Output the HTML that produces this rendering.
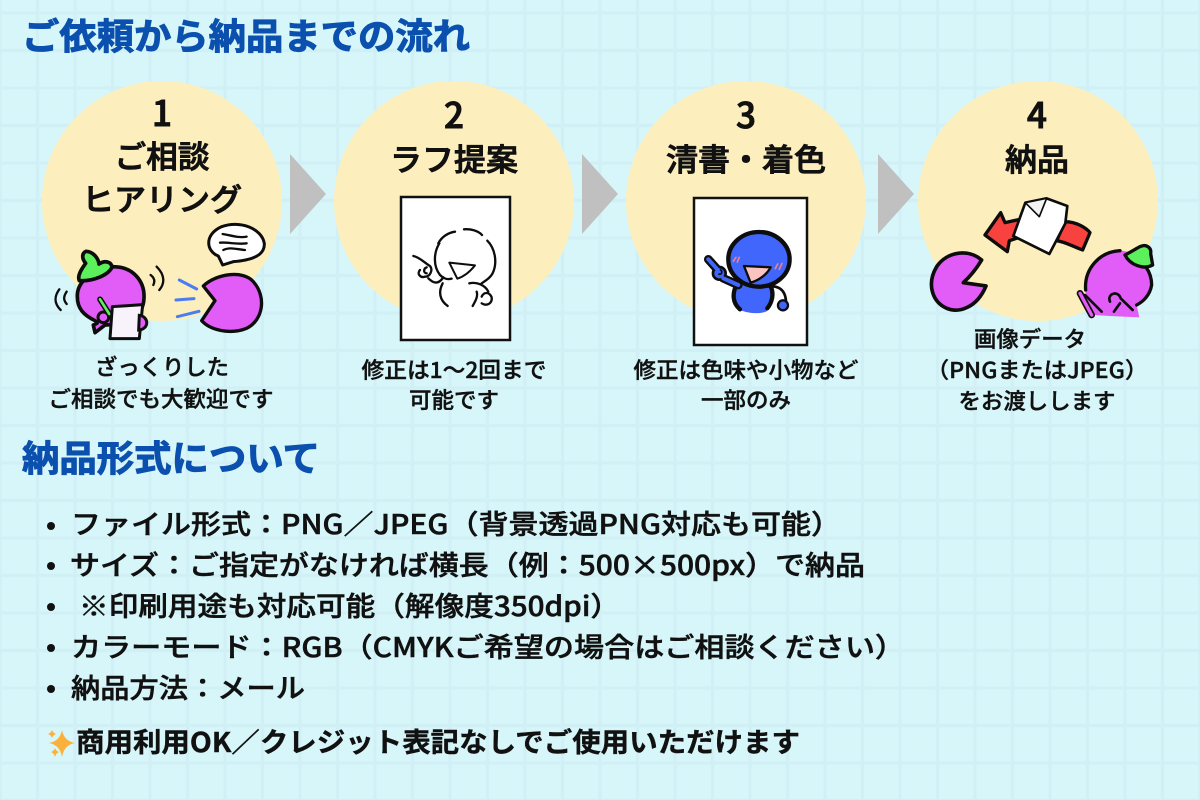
<!DOCTYPE html>
<html lang="ja"><head><meta charset="utf-8"><title>ご依頼から納品までの流れ</title>
<style>
html,body{margin:0;padding:0;background:#d7f6f9}
svg{display:block}
text{font-family:"Noto Sans CJK JP","Liberation Sans",sans-serif;fill:#111;font-weight:500}
.h{font-weight:700;fill:#0b50ae;font-size:36px;stroke:#0b50ae;stroke-width:1px}
.n{font-size:31px;text-anchor:middle;stroke:#111;stroke-width:.9px}
.d{font-size:35px;text-anchor:middle;stroke:#111;stroke-width:1px}
.c{font-size:22px;text-anchor:middle;stroke:#111;stroke-width:.4px}
.l{font-size:27px;stroke:#111;stroke-width:.5px}
.b{font-size:27px;font-weight:700;stroke:#111;stroke-width:.4px}
.k{fill:none;stroke:#111;stroke-linecap:round;stroke-linejoin:round}
</style></head><body>
<svg width="1200" height="800" viewBox="0 0 1200 800" xmlns="http://www.w3.org/2000/svg">
<defs>
<pattern id="g" x="18.75" y="-5.75" width="37.5" height="37.5" patternUnits="userSpaceOnUse">
<path d="M18.75 0V37.5M0 18.75H37.5" stroke="#d0f0f5" stroke-width="3" fill="none"/>
</pattern>
<filter id="r" x="-5%" y="-5%" width="110%" height="110%"><feTurbulence type="fractalNoise" baseFrequency=".5" numOctaves="2" seed="3"/><feDisplacementMap in="SourceGraphic" scale="1.5"/></filter>
</defs>
<rect width="1200" height="800" fill="#d7f6f9"/>
<rect width="1200" height="800" fill="url(#g)"/>
<text class="h" x="22" y="49" textLength="448" lengthAdjust="spacingAndGlyphs">ご依頼から納品までの流れ</text>
<g fill="#fcefbd"><circle cx="162" cy="201" r="120"/><circle cx="454" cy="201" r="120"/><circle cx="746" cy="201" r="120"/><circle cx="1038" cy="201" r="120"/></g>
<g fill="#c0c0c0"><path d="M290 154L326 194L290 234Z"/><path d="M582 154L618 194L582 234Z"/><path d="M878 154L914 194L878 234Z"/></g>
<text class="d" x="162" y="126">1</text>
<text class="n" x="162" y="168" textLength="95" lengthAdjust="spacingAndGlyphs">ご相談</text>
<text class="n" x="162" y="211" textLength="160" lengthAdjust="spacingAndGlyphs">ヒアリング</text>
<text class="d" x="454" y="128">2</text>
<text class="n" x="454" y="171" textLength="128" lengthAdjust="spacingAndGlyphs">ラフ提案</text>
<text class="d" x="746" y="128">3</text>
<text class="n" x="746" y="171" textLength="160" lengthAdjust="spacingAndGlyphs">清書・着色</text>
<text class="d" x="1037" y="128">4</text>
<text class="n" x="1037" y="171" textLength="64" lengthAdjust="spacingAndGlyphs">納品</text>

<!-- step 1 -->
<g transform="translate(30 210) scale(.3333)" filter="url(#r)">
<path d="M142 260C140 215 190 175 250 170C310 170 345 215 342 265C340 320 290 345 225 345L195 368L190 345C205 340 205 338 195 332C160 315 142 295 142 260Z" fill="#e25cf7" stroke="#111" stroke-width="11" stroke-linejoin="round"/>
<path d="M168 124C190 125 205 145 207 162C225 150 245 155 246 172C235 195 190 215 148 212C140 195 160 170 167 160C155 145 155 130 168 124Z" fill="#5cf05c" stroke="#111" stroke-width="11" stroke-linejoin="round"/>
<circle cx="220" cy="322" r="16" fill="#e25cf7" stroke="#111" stroke-width="9"/>
<path d="M210 268L238 312" stroke="#111" stroke-width="17" stroke-linecap="round"/><path d="M210 268L238 312" stroke="#5cf05c" stroke-width="8" stroke-linecap="round"/>
<path d="M247 290L338 284L328 386L240 386Z" fill="#f8f2fa" stroke="#111" stroke-width="9" stroke-linejoin="round"/>
<path d="M328 316C358 320 358 358 326 360Z" fill="#e25cf7" stroke="#111" stroke-width="9"/>
<path class="k" stroke-width="7" d="M362 195C375 205 375 215 370 225M380 170C405 195 405 220 388 240M110 245C100 260 100 270 110 282M88 238C72 260 72 280 92 300"/>
<path d="M520 228C560 190 640 180 670 215C710 260 700 330 650 355C600 375 540 360 515 332L555 272Z" fill="#e25cf7" stroke="#111" stroke-width="10" stroke-linejoin="round"/>
<path class="k" style="stroke:#4a7df0" stroke-width="9" d="M448 210L500 237M438 270L492 266M442 320L507 304"/>
<path d="M575 50C630 30 695 55 703 100C705 135 670 150 610 155L578 165L565 138C530 125 520 75 575 50Z" fill="#fff" stroke="#111" stroke-width="9" stroke-linejoin="round"/>
<path class="k" stroke-width="7" d="M578 72C600 75 625 85 650 80M570 98C595 96 620 104 650 100M580 120C600 110 620 118 645 120"/>
</g>

<!-- paper 2 and 3 -->
<rect x="401" y="197" width="109" height="143" fill="#fff" stroke="#111" stroke-width="2.5"/>
<rect x="694" y="198" width="113" height="147" fill="#fff" stroke="#111" stroke-width="2.5"/>
<g transform="translate(380 180) scale(.3333)" filter="url(#r)">
<path class="k" stroke-width="7" d="M175 190C185 170 205 158 225 155M252 148C270 146 295 152 306 165M322 182C345 205 352 245 340 275C335 290 320 300 305 310M178 190C160 220 160 260 180 285C190 295 200 300 215 296"/>
<path d="M208 248L285 256C270 275 250 290 232 296Z" fill="#fff" stroke="#111" stroke-width="6" stroke-linejoin="round"/>
<path class="k" stroke-width="7" d="M100 228C120 232 135 250 150 258C160 270 150 290 135 290C120 295 110 280 120 270M140 262C130 265 130 280 140 280M145 295C160 310 175 315 190 292M188 310C175 335 178 360 203 378M268 310C290 305 315 315 325 335M290 335C295 350 285 365 278 378M305 370C320 380 338 370 335 352C328 335 312 335 305 350"/>
</g>
<g transform="translate(380 180) scale(.3333)" filter="url(#r)">
<path d="M1070 300C1050 335 1055 372 1080 390C1110 402 1140 402 1160 394C1180 365 1182 335 1170 310Z" fill="#3f66fb"/>
<path class="k" stroke-width="13" d="M1072 310C1055 340 1058 370 1080 388M1172 318C1182 340 1178 365 1162 385"/>
<ellipse cx="1137" cy="238" rx="92" ry="82" fill="#3f66fb" stroke="#111" stroke-width="13"/>
<path d="M985 238L1012 268M1030 295L1075 315" stroke="#111" stroke-width="26" stroke-linecap="round"/>
<circle cx="1018" cy="280" r="23" fill="#111"/>
<path d="M985 238L1012 268M1030 295L1075 315" stroke="#3f66fb" stroke-width="12" stroke-linecap="round"/>
<circle cx="1018" cy="280" r="15" fill="#3f66fb"/>
<path d="M1020 268C1030 275 1025 285 1015 282" fill="none" stroke="#111" stroke-width="5"/>
<path class="k" stroke-width="8" d="M1160 320C1190 315 1215 325 1218 362"/>
<circle cx="1209" cy="376" r="15" fill="#3f66fb" stroke="#111" stroke-width="7"/>
<path d="M1092 258L1172 262C1160 285 1135 302 1112 308Z" fill="#fcc4c0" stroke="#111" stroke-width="7" stroke-linejoin="round"/>
<path d="M1068 232L1060 244M1078 232L1072 246M1193 252L1186 266M1206 250L1198 268" stroke="#f0808a" stroke-width="5" stroke-linecap="round"/>
</g>

<!-- step 4 -->
<g transform="translate(910 180) scale(.3333)" filter="url(#r)">
<path d="M330 118L285 128L272 98L225 165L292 215L298 182L335 170Z" fill="#f8433f" stroke="#111" stroke-width="10" stroke-linejoin="round"/>
<path d="M465 125C500 125 530 145 540 158L518 210C490 200 465 185 440 182Z" fill="#f8433f" stroke="#111" stroke-width="10" stroke-linejoin="round"/>
<path d="M346 68L410 55L472 78L466 130L418 222L310 168Z" fill="#fff" stroke="#111" stroke-width="8" stroke-linejoin="round"/>
<path d="M346 68L388 110L410 55Z" fill="#f4f4f4" stroke="#111" stroke-width="5" stroke-linejoin="round"/>
<path d="M215 240C175 205 110 215 80 260C50 310 65 365 110 385C145 400 200 385 228 318L160 308C180 290 200 265 215 240Z" fill="#e25cf7" stroke="#111" stroke-width="11" stroke-linejoin="round"/>
<path d="M525 320C525 260 570 212 630 212C690 215 725 265 725 315C720 345 700 365 680 375L688 412L600 408L550 405L530 365Z" fill="#e25cf7"/>
<path class="k" stroke-width="10" d="M527 330C522 265 570 215 630 212M660 225C700 240 725 275 725 315C720 345 700 365 680 375"/>
<path d="M645 225C665 215 680 205 690 200C710 190 725 205 722 220L728 255C700 270 660 255 645 225Z" fill="#5cf05c" stroke="#111" stroke-width="10" stroke-linejoin="round"/>
<path d="M510 340L545 405" stroke="#111" stroke-width="20" stroke-linecap="round"/>
<path d="M510 340L545 405" stroke="#e25cf7" stroke-width="10" stroke-linecap="round"/>
<path class="k" stroke-width="8" d="M525 345L575 395M600 365C590 340 625 330 632 355L668 390M630 370L612 395"/>
</g>

<g>
<text class="c" x="162" y="375" textLength="134" lengthAdjust="spacingAndGlyphs">ざっくりした</text>
<text class="c" x="161" y="407" textLength="225" lengthAdjust="spacingAndGlyphs">ご相談でも大歓迎です</text>
<text class="c" x="454" y="378" textLength="185" lengthAdjust="spacingAndGlyphs">修正は1～2回まで</text>
<text class="c" x="454" y="408" textLength="90" lengthAdjust="spacingAndGlyphs">可能です</text>
<text class="c" x="746" y="378" textLength="225" lengthAdjust="spacingAndGlyphs">修正は色味や小物など</text>
<text class="c" x="746" y="408" textLength="90" lengthAdjust="spacingAndGlyphs">一部のみ</text>
<text class="c" x="1030" y="347" textLength="112" lengthAdjust="spacingAndGlyphs">画像データ</text>
<text class="c" x="1037" y="378" textLength="222" lengthAdjust="spacingAndGlyphs">（PNGまたはJPEG）</text>
<text class="c" x="1037" y="409" textLength="157" lengthAdjust="spacingAndGlyphs">をお渡しします</text>
</g>

<text class="h" x="22" y="471" textLength="298" lengthAdjust="spacingAndGlyphs">納品形式について</text>

<g fill="#111"><circle cx="51" cy="526" r="4"/><circle cx="51" cy="566" r="4"/><circle cx="51" cy="607" r="4"/><circle cx="51" cy="648" r="4"/><circle cx="51" cy="689" r="4"/></g>
<text class="l" x="71" y="534" textLength="770" lengthAdjust="spacingAndGlyphs">ファイル形式：PNG／JPEG（背景透過PNG対応も可能）</text>
<text class="l" x="70" y="575" textLength="795" lengthAdjust="spacingAndGlyphs">サイズ：ご指定がなければ横長（例：500×500px）で納品</text>
<text class="l" x="79" y="616" textLength="541" lengthAdjust="spacingAndGlyphs">※印刷用途も対応可能（解像度350dpi）</text>
<text class="l" x="71" y="657" textLength="834" lengthAdjust="spacingAndGlyphs">カラーモード：RGB（CMYKご希望の場合はご相談ください）</text>
<text class="l" x="71" y="698" textLength="234" lengthAdjust="spacingAndGlyphs">納品方法：メール</text>

<g fill="#fbb03b">
<path d="M62 730Q64 741 75 743Q64 745 62 757Q60 745 49 743Q60 741 62 730Z"/>
<path d="M52 730Q53 733 56 734Q53 735 52 738Q51 735 48 734Q51 733 52 730Z"/>
<path d="M55 748Q56 751 59 752Q56 753 55 757Q54 753 51 752Q54 751 55 748Z"/>
</g>
<text class="b" x="76" y="752" textLength="724" lengthAdjust="spacingAndGlyphs">商用利用OK／クレジット表記なしでご使用いただけます</text>
</svg>
</body></html>
